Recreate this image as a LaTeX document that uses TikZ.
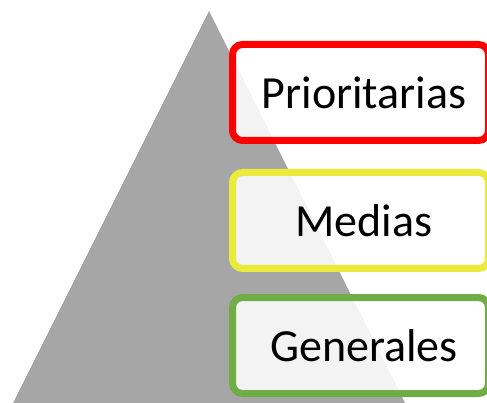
\documentclass[tikz,border=0pt]{standalone}
\usepackage{fontspec}
\setmainfont{Carlito}
\definecolor{gris}{HTML}{A6A6A6}
\definecolor{rojo}{HTML}{FF0000}
\definecolor{amarillo}{HTML}{EBEB3C}
\definecolor{verde}{HTML}{70AD47}
\tikzset{nivel/.style={draw, line width=7pt, rounded corners=10pt,
    fill=white, fill opacity=.87, text opacity=1,
    minimum width=256pt, minimum height=96pt, inner sep=0pt,
    execute at begin node=\hspace*{7pt},
    font=\fontsize{46}{50}\selectfont}}
\begin{document}
\begin{tikzpicture}[x=1pt,y=-1pt]
    \useasboundingbox (0,0) rectangle (487,403);
    \fill[gris] (209,11) -- (405,403) -- (13,403) -- cycle;
    \node[nivel, draw=rojo] (prio) at (360.5,92.5) {Prioritarias};
    \node[nivel, draw=amarillo] (medias) at (360.5,220.5) {Medias};
    \node[nivel, draw=verde] (generales) at (360.5,345.5) {Generales};
\end{tikzpicture}
\end{document}
